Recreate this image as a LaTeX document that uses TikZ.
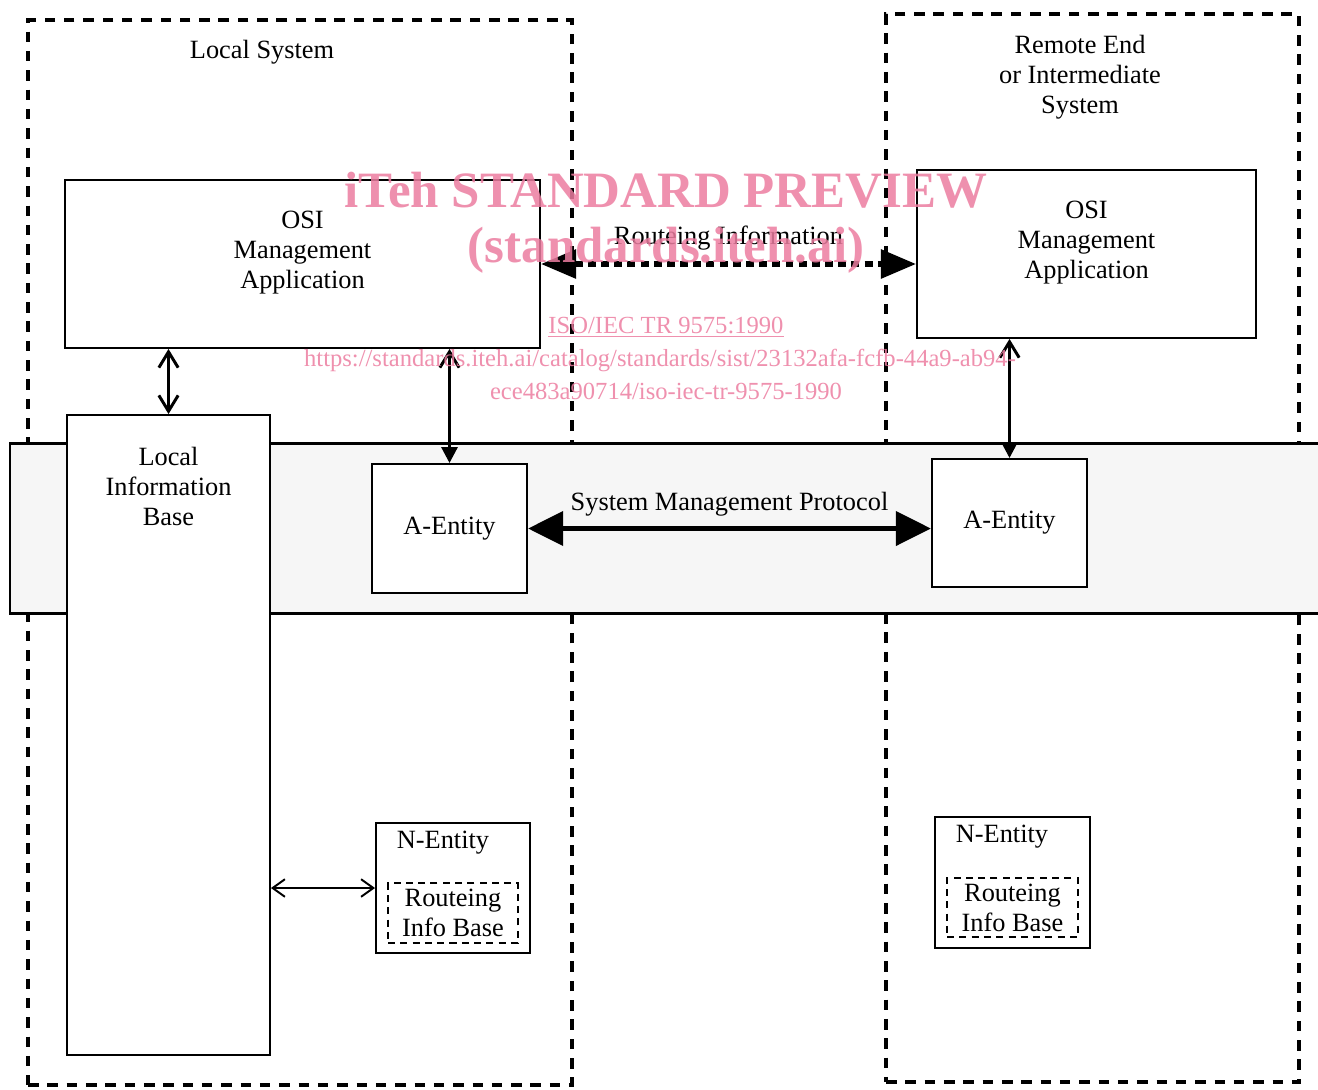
\documentclass[tikz,border=0pt]{standalone}
\usepackage{fontspec}
\setmainfont{Liberation Serif}
\usetikzlibrary{positioning,arrows.meta}
\definecolor{wmpink}{RGB}{236,125,160}
\newcommand{\pxu}{0.02cm}

\begin{document}
\begin{tikzpicture}[
		x=0.02cm, y=-0.02cm
		,every node/.append style={font=\fontsize{15}{17}\selectfont, align=center}
		,box/.style={draw, line width=1.1pt, fill=white, inner sep=0pt}
		,sysbox/.style={draw, line width=2.6pt, dash pattern=on 6pt off 5pt, inner sep=0pt}
		,ribbox/.style={draw, line width=1pt, dash pattern=on 4pt off 3pt, inner sep=0pt}
		,vlink/.style={line width=1.7pt, {Straight Barb[length=9pt,width=11pt]}-{Straight Barb[length=9pt,width=11pt]}}
		,alink/.style={line width=1.7pt, {Straight Barb[length=9pt,width=11pt]}-{Triangle[length=9pt,width=9pt]}}
		,nlink/.style={line width=1.1pt, {Straight Barb[length=7pt,width=10pt]}-{Straight Barb[length=7pt,width=10pt]}}
		,ri/.style={line width=3.2pt, dash pattern=on 4.5pt off 3pt, {Triangle[length=20pt,width=16pt]}-{Triangle[length=20pt,width=16pt]}}
		,smp/.style={line width=3.4pt, {Triangle[length=20pt,width=19pt]}-{Triangle[length=20pt,width=19pt]}}
		,wm/.style={text=wmpink, text opacity=0.85, font=\bfseries\fontsize{29}{33}\selectfont}
		,wmsmall/.style={text=wmpink, text opacity=0.85, font=\fontsize{14}{16}\selectfont}
	]
	\clip (0,0) rectangle (1318,1089);

	% the two systems
	\node [sysbox, minimum width=544*\pxu, minimum height=1065*\pxu] (loc) at (300,552.5) {};
	\node [sysbox, minimum width=413*\pxu, minimum height=1068*\pxu] (rem) at (1092.5,548) {};
	\node (locT) at (262,52) {Local System};
	\node (remT) at (1080,77) {Remote End\\or Intermediate\\System};

	% shaded layer
	\node [draw, line width=1.7pt, fill=gray!7, inner sep=0pt,
		minimum width=1330*\pxu, minimum height=170*\pxu] (band) at (675,528) {};

	% boxes
	\node [box, minimum width=475*\pxu, minimum height=168*\pxu] (osiL) at (302.5,264) {};
	\node [below=0.52cm of osiL.north] (osiLT) {OSI\\Management\\Application};
	\node [box, minimum width=339*\pxu, minimum height=168*\pxu] (osiR) at (1086.5,254) {};
	\node [below=0.52cm of osiR.north] (osiRT) {OSI\\Management\\Application};

	\node [box, minimum width=203*\pxu, minimum height=640*\pxu] (lib) at (168.5,735) {};
	\node [below=0.54cm of lib.north] (libT) {Local\\Information\\Base};

	\node [box, minimum width=155*\pxu, minimum height=129*\pxu] (aL) at (449.5,528.5) {A-Entity};
	\node [box, minimum width=155*\pxu, minimum height=128*\pxu] (aR) at (1009.5,523) {A-Entity};

	\node [box, minimum width=154*\pxu, minimum height=130*\pxu] (nL) at (453,888) {};
	\node (nLT) at (443,843) {N-Entity};
	\node [ribbox, minimum width=130*\pxu, minimum height=60*\pxu] (ribL) at (453,913) {Routeing\\Info Base};
	\node [box, minimum width=155*\pxu, minimum height=131*\pxu] (nR) at (1012.5,882.5) {};
	\node (nRT) at (1002,837) {N-Entity};
	\node [ribbox, minimum width=131*\pxu, minimum height=59*\pxu] (ribR) at (1012.5,907.5) {Routeing\\Info Base};

	% connectors
	\draw [vlink] (lib.north |- osiL.south) -- (lib.north);
	\draw [alink] (aL.north |- osiL.south) -- (aL.north);
	\draw [alink] (aR.north |- osiR.south) -- (aR.north);
	\draw [nlink] (nL.west -| lib.east) -- (nL.west);
	\draw [ri] (osiL.east) -- (osiL.east -| osiR.west)
		node [midway, above=3pt] (riT) {Routeing Information};
	\draw [smp] (aL.east) -- (aL.east -| aR.west)
		node [midway, above=2pt] (smpT) {System Management Protocol};

	% watermark
	\node [wm] (wm1) at (666,190) {iTeh STANDARD PREVIEW};
	\node [wm] (wm2) at (666,250) {(standards.iteh.ai)};
	\node [wmsmall] (wm3) at (666,327) {\underline{ISO/IEC TR 9575:1990}};
	\node [wmsmall] (wm4) at (660,360) {https://standards.iteh.ai/catalog/standards/sist/23132afa-fcfb-44a9-ab94-};
	\node [wmsmall] (wm5) at (666,391) {ece483a90714/iso-iec-tr-9575-1990};
\end{tikzpicture}
\end{document}
